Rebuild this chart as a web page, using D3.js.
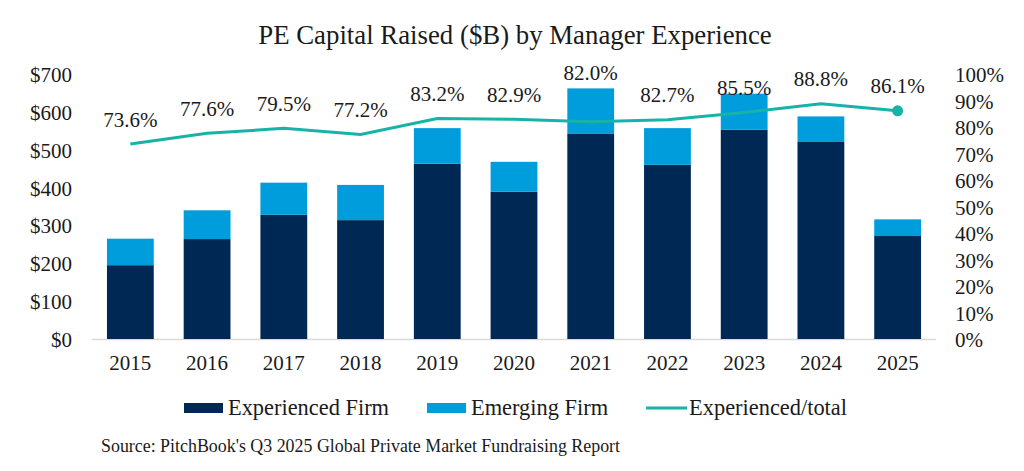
<!DOCTYPE html>
<html>
<head>
<meta charset="utf-8">
<script src="https://cdn.jsdelivr.net/npm/d3@7"></script>
<style>
  body { margin: 0; background: #fff; }
  text { font-family: Georgia, "Liberation Serif", serif; fill: #1a1a1a; }
</style>
</head>
<body>
<div id="chart"></div>
<script>
var years = ["2015", "2016", "2017", "2018", "2019", "2020", "2021", "2022", "2023", "2024", "2025"];
var experienced = [195, 264, 328, 314, 463, 389, 543, 460, 553, 522, 272];
var emerging = [70, 76, 85, 93, 94, 79, 119, 97, 95, 66, 44];
var ratio = [73.6, 77.6, 79.5, 77.2, 83.2, 82.9, 82.0, 82.7, 85.5, 88.8, 86.1];
var leftTicks = [0, 100, 200, 300, 400, 500, 600, 700];
var rightTicks = [0, 0.1, 0.2, 0.3, 0.4, 0.5, 0.6, 0.7, 0.8, 0.9, 1];
var seriesNames = ["Experienced Firm", "Emerging Firm", "Experienced/total"];

var w = 1024, h = 471;
var margin = {top: 74, right: 88, bottom: 132, left: 92};
var colors = {experienced: "#002855", emerging: "#009ddc", line: "#17b2a8"};

var svg = d3.select("#chart").append("svg")
    .attr("width", w)
    .attr("height", h);

var rows = years.map(function (y, i) {
    return {year: y, experienced: experienced[i], emerging: emerging[i], ratio: ratio[i] / 100};
});

var x = d3.scaleBand()
    .domain(years)
    .range([margin.left, w - margin.right])
    .paddingInner(0.39)
    .paddingOuter(0.195);

var yLeft = d3.scaleLinear().domain([0, 700]).range([h - margin.bottom, margin.top]);
var yRight = d3.scaleLinear().domain([0, 1]).range([h - margin.bottom, margin.top]);

// title
svg.append("text")
    .attr("x", 515)
    .attr("y", 44)
    .attr("text-anchor", "middle")
    .style("font-size", "26.8px")
    .text("PE Capital Raised ($B) by Manager Experience");

// baseline
svg.append("line")
    .attr("x1", margin.left).attr("x2", w - margin.right)
    .attr("y1", yLeft(0) + 0.5).attr("y2", yLeft(0) + 0.5)
    .attr("stroke", "#d9d9d9")
    .attr("stroke-width", 1.5);

// stacked bars
var stack = d3.stack().keys(["experienced", "emerging"]);
var layers = stack(rows);

svg.selectAll(".layer")
    .data(layers)
    .enter().append("g")
    .attr("class", "layer")
    .attr("fill", function (d) { return colors[d.key]; })
    .selectAll("rect")
    .data(function (d) { return d; })
    .enter().append("rect")
    .attr("x", function (d) { return x(d.data.year); })
    .attr("width", x.bandwidth())
    .attr("y", function (d) { return yLeft(d[1]); })
    .attr("height", function (d) { return yLeft(d[0]) - yLeft(d[1]); });

// axes
var leftAxis = svg.append("g")
    .attr("transform", "translate(" + margin.left + ",0)")
    .call(d3.axisLeft(yLeft).tickValues(leftTicks).tickSize(0).tickPadding(20)
        .tickFormat(function (d) { return "$" + d; }));

var rightAxis = svg.append("g")
    .attr("transform", "translate(" + (w - margin.right) + ",0)")
    .call(d3.axisRight(yRight).tickValues(rightTicks).tickSize(0).tickPadding(19)
        .tickFormat(d3.format(".0%")));

var bottomAxis = svg.append("g")
    .attr("transform", "translate(0," + yLeft(0) + ")")
    .call(d3.axisBottom(x).tickSize(0).tickPadding(16));

[leftAxis, rightAxis, bottomAxis].forEach(function (g) {
    g.select(".domain").remove();
    g.selectAll("text")
        .style("font-family", "Georgia, 'Liberation Serif', serif")
        .style("font-size", "21px")
        .attr("fill", "#1a1a1a");
});
leftAxis.selectAll("text").attr("dy", "0.36em");
rightAxis.selectAll("text").attr("dy", "0.36em");

// ratio line
var line = d3.line()
    .x(function (d) { return x(d.year) + x.bandwidth() / 2; })
    .y(function (d) { return yRight(d.ratio); });

svg.append("path")
    .datum(rows)
    .attr("d", line)
    .attr("fill", "none")
    .attr("stroke", colors.line)
    .attr("stroke-width", 3);

var last = rows[rows.length - 1];
svg.append("circle")
    .attr("cx", x(last.year) + x.bandwidth() / 2)
    .attr("cy", yRight(last.ratio))
    .attr("r", 5.5)
    .attr("fill", colors.line);

// ratio labels (2021 label sits higher, clear of the bar)
svg.selectAll(".ratio-label")
    .data(rows)
    .enter().append("text")
    .attr("class", "ratio-label")
    .attr("x", function (d) { return x(d.year) + x.bandwidth() / 2; })
    .attr("y", function (d) { return yRight(d.ratio) - (d.year === "2021" ? 49 : 25); })
    .attr("dy", "0.36em")
    .attr("text-anchor", "middle")
    .style("font-size", "21px")
    .text(function (d) { return d.ratio.toLocaleString("en-US", {style: "percent", minimumFractionDigits: 1}); });

// legend
var legend = svg.append("g").attr("transform", "translate(0,408)");
var lx = 184;
seriesNames.forEach(function (name, i) {
    var item = legend.append("g").attr("transform", "translate(" + lx + ",0)");
    if (i < 2) {
        item.append("rect")
            .attr("x", 0).attr("y", -5)
            .attr("width", 39).attr("height", 10)
            .attr("fill", i === 0 ? colors.experienced : colors.emerging);
    } else {
        item.append("line")
            .attr("x1", 0).attr("x2", 41)
            .attr("y1", 0).attr("y2", 0)
            .attr("stroke", colors.line)
            .attr("stroke-width", 3);
    }
    var t = item.append("text")
        .attr("x", i < 2 ? 44 : 43)
        .attr("y", 0)
        .attr("dy", "0.33em")
        .style("font-size", "22.4px")
        .text(name);
    lx += (i < 2 ? 44 : 43) + t.node().getComputedTextLength() + 38;
});

// source
svg.append("text")
    .attr("x", 101)
    .attr("y", 452)
    .style("font-size", "17.9px")
    .text("Source: PitchBook's Q3 2025 Global Private Market Fundraising Report");
</script>
</body>
</html>
